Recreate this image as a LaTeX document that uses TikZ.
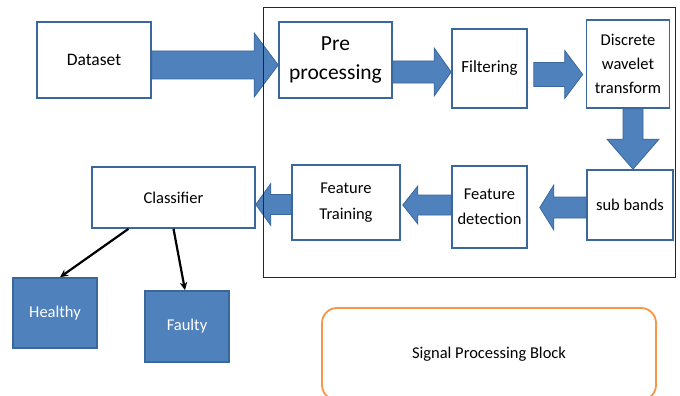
\documentclass[tikz,border=0pt]{standalone}
\usepackage{fontspec}
\setmainfont{Carlito}
\usetikzlibrary{calc,arrows.meta}
\definecolor{obf}{HTML}{4F81BD}
\definecolor{obl}{HTML}{3A679C}
\definecolor{oor}{HTML}{F79646}
\tikzset{
 wbox/.style={draw=obl,line width=1.6pt,fill=white,align=center,font=\fontsize{16.5}{24}\selectfont,inner sep=0pt},
 bbox/.style={draw=obl,line width=1.6pt,fill=obf,text=white,align=center,font=\fontsize{16.5}{20}\selectfont,inner sep=0pt},
 barrow/.style={fill=obf,draw=obl,line width=0.8pt,line join=miter},
 karrow/.style={line width=2.2pt,-{Stealth[length=8pt,width=7.5pt]}},
}
% #1 start, #2 end (only x used), #3 half shaft, #4 half head, #5 signed head length
\newcommand{\harr}[5]{%
 \draw[barrow] let \p1=(#1), \p2=(#2) in
  (\x1,{\y1+#3*1pt}) -- ({\x2-#5*1pt},{\y1+#3*1pt}) -- ({\x2-#5*1pt},{\y1+#4*1pt})
  -- (\x2,\y1) -- ({\x2-#5*1pt},{\y1-#4*1pt}) -- ({\x2-#5*1pt},{\y1-#3*1pt})
  -- (\x1,{\y1-#3*1pt}) -- cycle;}
\begin{document}
\begin{tikzpicture}[x=1pt,y=-1pt]
\useasboundingbox (0,0) rectangle (680,396);
\fill[white] (0,0) rectangle (680,396);

% nodes
\node[wbox,minimum width=114pt,minimum height=76pt,font=\fontsize{17.5}{22}\selectfont] (ds) at (94,60) {Dataset};
\node[wbox,minimum width=113pt,minimum height=76pt,font=\fontsize{21.5}{29}\selectfont] (pre) at (335.5,60) {Pre\\processing};
\node[wbox,minimum width=75pt,minimum height=79pt,font=\fontsize{17}{22}\selectfont] (filt) at (489.5,68.5) {Filtering};
\node[wbox,minimum width=83pt,minimum height=88pt] (dwt) at (628,64) {Discrete\\wavelet\\transform};
\node[wbox,minimum width=86pt,minimum height=70pt] (sub) at (630,205) {sub bands};
\node[wbox,minimum width=75pt,minimum height=82pt,font=\fontsize{16.5}{25}\selectfont] (fdet) at (489.5,207) {Feature\\detection};
\node[wbox,minimum width=108pt,minimum height=75pt,font=\fontsize{16.5}{26}\selectfont] (ftr) at (346,202.5) {Feature\\Training};
\node[wbox,minimum width=163pt,minimum height=61pt] (cls) at (173.5,197.5) {Classifier};
\node[bbox,minimum width=84pt,minimum height=70pt] (healthy) at (55,313) {Healthy};
\node[bbox,minimum width=84pt,minimum height=71pt] (faulty) at (187,326.5) {Faulty};
\node[draw=oor,line width=1.8pt,rounded corners=15pt,minimum width=334pt,minimum height=92pt,font=\fontsize{16.5}{20}\selectfont,inner sep=0pt] (spb) at (489,354) {Signal Processing Block};

% block arrows
\harr{$(ds.east)+(0,5)$}{pre.west}{14}{32}{24}
\harr{$(pre.east)+(0,12)$}{filt.west}{11}{24}{17}
\harr{$(filt.east)+(6,6)$}{$(dwt.west)+(-3,0)$}{12}{24}{18}
\draw[barrow] let \p1=($(dwt.south)+(5,0)$), \p2=(sub.north) in
  ({\x1-10pt},\y1) -- ({\x1-10pt},{\y2+30pt}) -- ({\x1-26pt},{\y2+30pt}) -- (\x1,\y2)
  -- ({\x1+26pt},{\y2+30pt}) -- ({\x1+10pt},{\y2+30pt}) -- ({\x1+10pt},\y1) -- cycle;
\harr{$(sub.west)+(0,2.5)$}{$(fdet.east)+(12,0)$}{10.5}{22.5}{-14}
\harr{$(fdet.west)+(0,-2)$}{$(ftr.east)+(2,0)$}{10}{19}{-15}
\harr{$(ftr.west)+(0,2)$}{cls.east}{10}{21}{-15}

% outer frame
\draw[line width=0.9pt,black!85] (263,7) rectangle (675,277);

% black arrows
\draw[karrow] ($(cls.south)+(-45,0)$) -- ($(healthy.north)+(5,0)$);
\draw[karrow] ($(cls.south)+(0,0)$) -- ($(faulty.north)+(-2,0)$);
\end{tikzpicture}
\end{document}
